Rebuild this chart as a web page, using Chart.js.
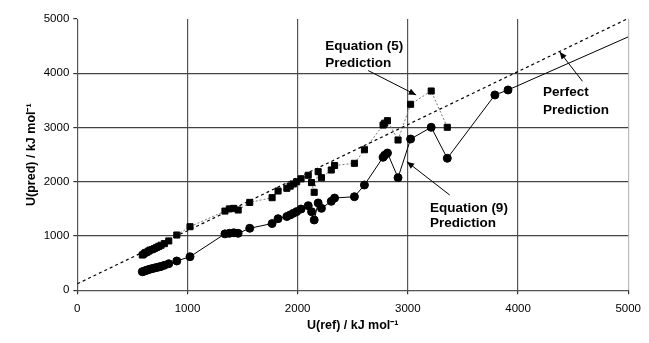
<!DOCTYPE html>
<html>
<head>
<meta charset="utf-8">
<script src="https://cdn.jsdelivr.net/npm/chart.js@4/dist/chart.umd.min.js"></script>
<style>
  body { margin: 0; background: #fff; }
  #wrap { width: 649px; height: 343px; }
</style>
</head>
<body>
<div id="wrap"><canvas id="scatter-chart" width="649" height="343"></canvas></div>
<script>
// U(ref) values, kJ/mol
var uRef = [590, 605, 615, 630, 645, 660, 680, 700, 720, 740, 760, 790, 830, 903, 1023,
  1340, 1380, 1420, 1460, 1565, 1768, 1822, 1902, 1932, 1961, 1991, 2031, 2096, 2126, 2150,
  2186, 2216, 2305, 2335, 2515, 2606, 2775, 2790, 2815, 2911, 3025, 3212, 3358, 3790, 3909];
// Equation (5) prediction
var uEq5 = [650, 670, 690, 700, 720, 740, 750, 770, 790, 810, 830, 860, 910, 1019, 1172,
  1460, 1500, 1510, 1480, 1620, 1707, 1830, 1880, 1920, 1960, 2000, 2055, 2120, 1985, 1806,
  2186, 2075, 2217, 2300, 2340, 2590, 3046, 3080, 3126, 2770, 3428, 3673, 3004, null, null];
// Equation (9) prediction
var uEq9 = [343, 350, 360, 370, 380, 390, 400, 410, 420, 430, 440, 460, 490, 540, 619,
  1040, 1050, 1060, 1050, 1143, 1230, 1320, 1360, 1390, 1420, 1450, 1498, 1560, 1449, 1296,
  1610, 1511, 1640, 1700, 1725, 1941, 2451, 2490, 2530, 2075, 2788, 3004, 2433, 3600, 3692];
// "Perfect prediction" line and extension of the eq. (9) line
var perfectLine = [{x: 0, y: 120}, {x: 5000, y: 5010}];
var eq9Tail = [{x: 3909, y: 3692}, {x: 5000, y: 4670}];
var ticksX = [0, 1000, 2000, 3000, 4000, 5000];
var ticksY = [0, 1000, 2000, 3000, 4000, 5000];

function pts(ys) {
  var out = [];
  for (var i = 0; i < uRef.length; i++) {
    if (ys[i] !== null) out.push({x: uRef[i], y: ys[i]});
  }
  return out;
}

// text labels with arrows, anchored in data units
var notes = [
  {lines: ['Equation (5)', 'Prediction'], at: [2250, 4500], dy: 4190, from: [2640, 4050], to: [3075, 3600]},
  {lines: ['Perfect', 'Prediction'], at: [4227, 3656], dy: 3325, from: [4585, 3852], to: [4377, 4397]},
  {lines: ['Equation (9)', 'Prediction'], at: [3200, 1516], dy: 1240, from: [3380, 1756], to: [2991, 2370]}
];

var notePlugin = {
  id: 'notes',
  afterDatasetsDraw: function(chart) {
    var ctx = chart.ctx, sx = chart.scales.x, sy = chart.scales.y;
    ctx.save();
    ctx.fillStyle = '#000';
    ctx.strokeStyle = '#000';
    ctx.lineWidth = 1;
    ctx.font = 'bold 13.5px "Liberation Sans", Arial, sans-serif';
    ctx.textBaseline = 'middle';
    ctx.textAlign = 'left';
    notes.forEach(function(n) {
      ctx.fillText(n.lines[0], sx.getPixelForValue(n.at[0]), sy.getPixelForValue(n.at[1]));
      ctx.fillText(n.lines[1], sx.getPixelForValue(n.at[0]), sy.getPixelForValue(n.dy));
      var x1 = sx.getPixelForValue(n.from[0]), y1 = sy.getPixelForValue(n.from[1]);
      var x2 = sx.getPixelForValue(n.to[0]), y2 = sy.getPixelForValue(n.to[1]);
      ctx.beginPath();
      ctx.moveTo(x1, y1);
      ctx.lineTo(x2, y2);
      ctx.stroke();
      var a = Math.atan2(y2 - y1, x2 - x1);
      ctx.beginPath();
      ctx.moveTo(x2, y2);
      ctx.lineTo(x2 - 8 * Math.cos(a - 0.4), y2 - 8 * Math.sin(a - 0.4));
      ctx.lineTo(x2 - 8 * Math.cos(a + 0.4), y2 - 8 * Math.sin(a + 0.4));
      ctx.closePath();
      ctx.fill();
    });
    ctx.restore();
  }
};

var tickFont = {family: '"Liberation Sans", Arial, sans-serif', size: 11.5};
var titleFont = {family: '"Liberation Sans", Arial, sans-serif', size: 12.5, weight: 'bold'};
function plain(v) { return String(v); }

new Chart(document.getElementById('scatter-chart'), {
  type: 'scatter',
  data: {
    datasets: [{
        label: 'Perfect Prediction',
        data: perfectLine,
        showLine: true,
        borderColor: '#000',
        borderWidth: 1.2,
        borderDash: [3, 3],
        pointRadius: 0
      }, {
        label: 'Equation (5)',
        data: pts(uEq5),
        showLine: true,
        borderColor: '#777',
        borderWidth: 1,
        borderDash: [2, 2],
        pointStyle: 'rect',
        pointRadius: 4.3,
        backgroundColor: '#000',
        pointBorderColor: '#000'
      }, {
        label: 'Equation (9)',
        data: pts(uEq9),
        showLine: true,
        borderColor: '#000',
        borderWidth: 1,
        pointStyle: 'circle',
        pointRadius: 4,
        backgroundColor: '#000',
        pointBorderColor: '#000'
      }, {
        label: 'Equation (9) trend',
        data: eq9Tail,
        showLine: true,
        borderColor: '#000',
        borderWidth: 1,
        pointRadius: 0
      }
    ]
  },
  options: {
    responsive: false,
    animation: false,
    layout: {
      padding: {left: 0, right: 14, top: 19, bottom: 0}
    },
    plugins: {
      legend: {display: false},
      tooltip: {enabled: false}
    },
    scales: {
      x: {
        type: 'linear',
        min: 0,
        max: 5000,
        afterBuildTicks: function(s) { s.ticks = ticksX.map(function(v) { return {value: v}; }); },
        afterFit: function(s) { s.height = 52.7; },
        ticks: {color: '#000', font: tickFont, padding: 8, maxRotation: 0, callback: plain},
        grid: {
          color: function(c) { return c.tick && c.tick.value === 5000 ? '#bbb' : '#555'; },
          lineWidth: 1.2,
          tickColor: '#333',
          tickLength: 4
        },
        border: {color: '#555', width: 1},
        title: {display: true, text: 'U(ref) / kJ mol\u207B\u00B9', color: '#000', font: titleFont, padding: {top: 0, bottom: 9.5}}
      },
      y: {
        type: 'linear',
        min: 0,
        max: 5000,
        afterBuildTicks: function(s) { s.ticks = ticksY.map(function(v) { return {value: v}; }); },
        afterFit: function(s) { s.width = 77.3; },
        ticks: {color: '#000', font: tickFont, padding: 4, callback: plain},
        grid: {
          color: function(c) { return c.tick && c.tick.value === 5000 ? 'rgba(0,0,0,0)' : '#444'; },
          lineWidth: 1.2,
          tickColor: '#333',
          tickLength: 4
        },
        border: {color: '#555', width: 1},
        title: {display: true, text: 'U(pred) / kJ mol\u207B\u00B9', color: '#000', font: titleFont, padding: {top: 24, bottom: 0}}
      }
    }
  },
  plugins: [notePlugin]
});
</script>
</body>
</html>
